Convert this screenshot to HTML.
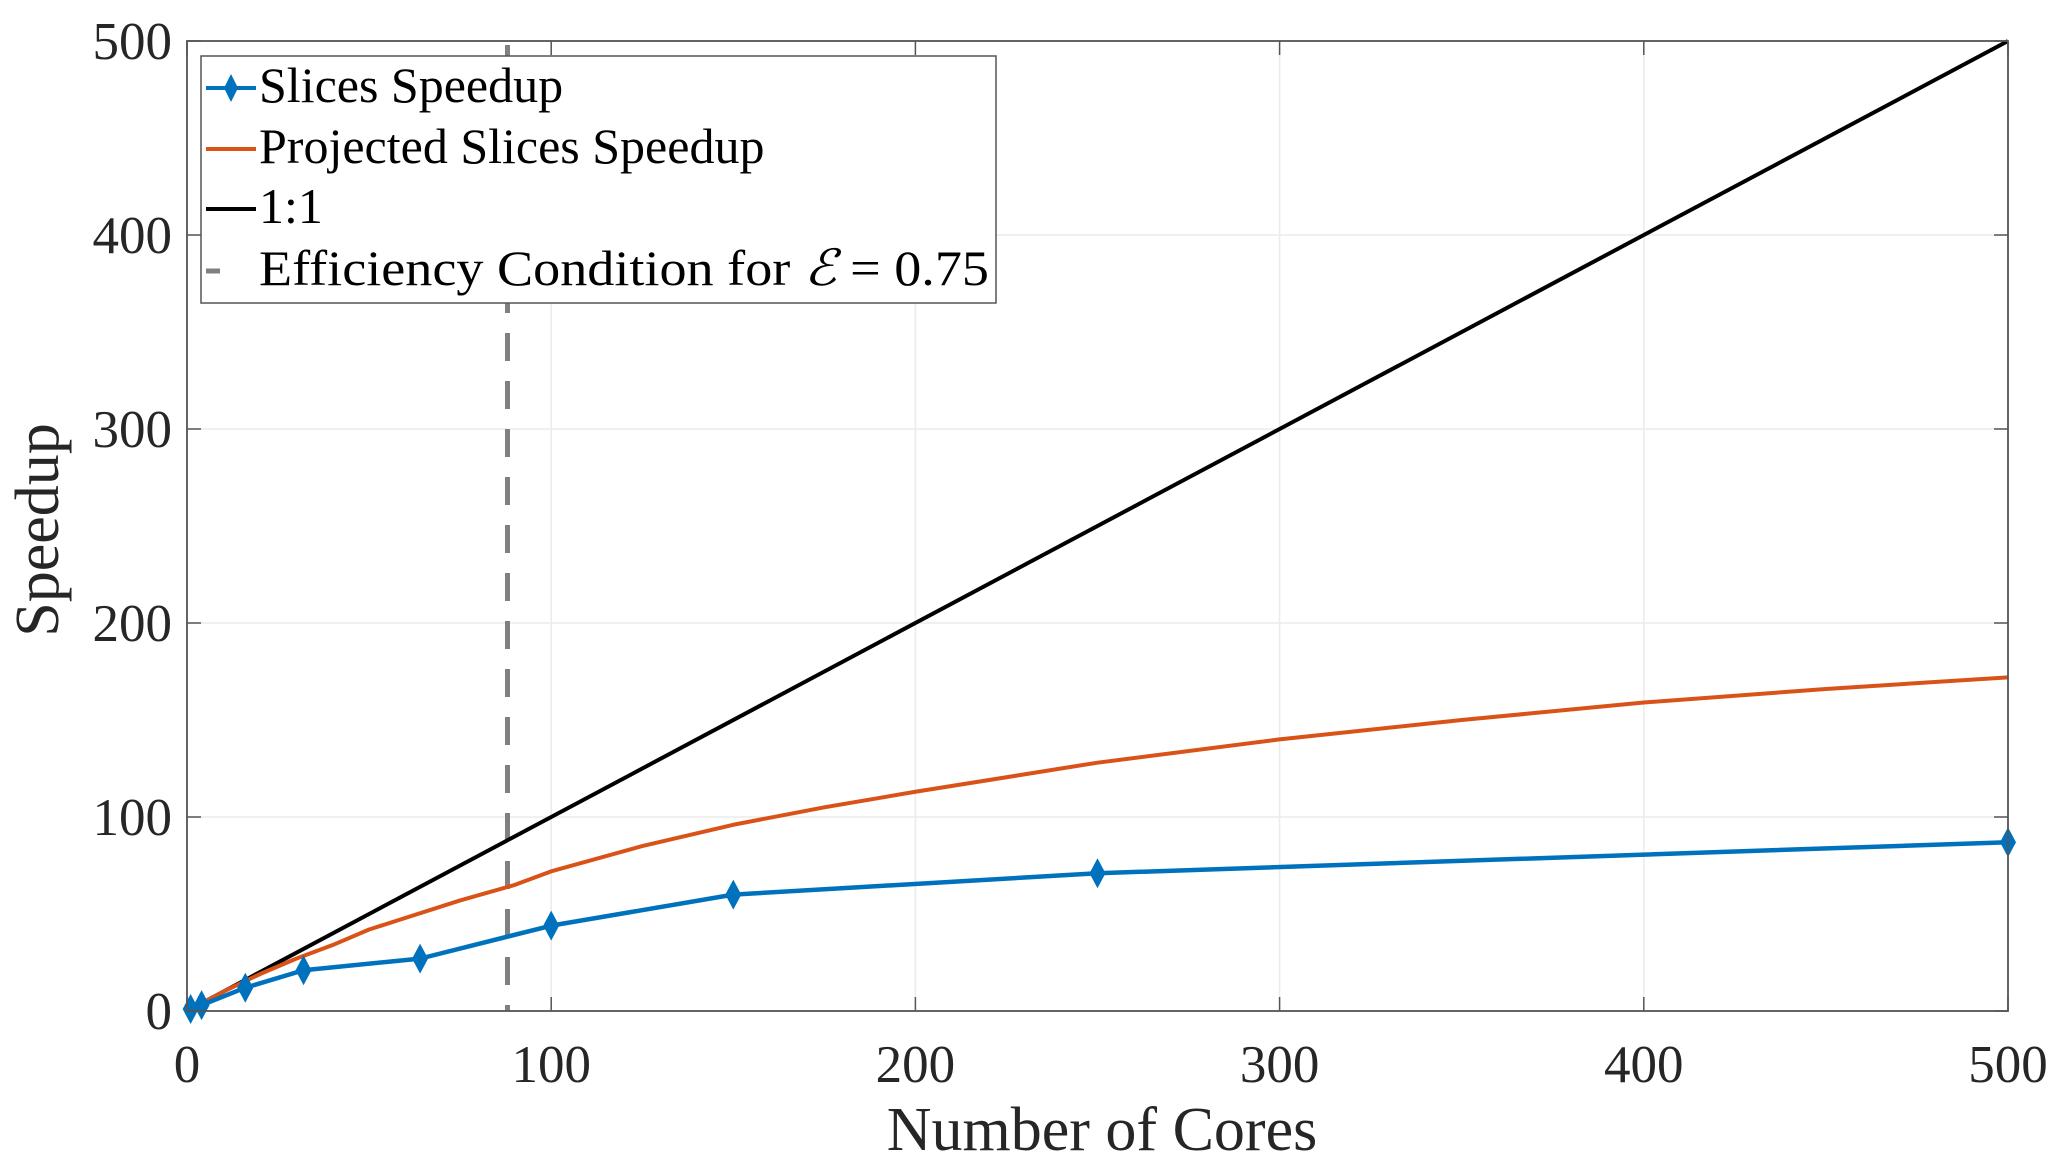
<!DOCTYPE html>
<html><head><meta charset="utf-8"><style>
html,body{margin:0;padding:0;background:#fff;}
svg{display:block;font-family:"Liberation Serif",serif;}
</style></head><body>
<svg id="chart" width="2067" height="1167" viewBox="0 0 2067 1167" xmlns="http://www.w3.org/2000/svg">
<rect width="2067" height="1167" fill="#fff"/>
<g id="grid"></g>
<g id="series"></g>
<g id="axes"></g>
<text x="1102" y="1150" font-size="62" text-anchor="middle" fill="#262626">Number of Cores</text>
<text transform="translate(58,530) rotate(-90)" font-size="62" text-anchor="middle" fill="#262626">Speedup</text>
<g>
<rect x="201" y="56" width="795" height="247" fill="#fff" stroke="#555" stroke-width="1.5"/>
<g>
<line x1="206" y1="88" x2="256" y2="88" stroke="#0072BD" stroke-width="4"/>
<path d="M231,74 L238,88 L231,102 L224,88 Z" fill="#0072BD"/>
<text x="259" y="102" font-size="50" fill="#000">Slices Speedup</text></g>
<g>
<line x1="206" y1="149" x2="256" y2="149" stroke="#D95319" stroke-width="4"/>
<text x="259" y="163" font-size="50" fill="#000">Projected Slices Speedup</text></g>
<g>
<line x1="206" y1="209" x2="256" y2="209" stroke="#000" stroke-width="4"/>
<text x="259" y="223" font-size="50" fill="#000">1:1</text></g>
<g>
<line x1="206" y1="271" x2="220" y2="271" stroke="#808080" stroke-width="5"/>
<text x="259" y="285" font-size="50" fill="#000" textLength="730" lengthAdjust="spacingAndGlyphs">Efficiency Condition for <tspan font-style="italic">ℰ</tspan> = 0.75</text></g>
</g>
</svg>
<script>
const xTicks=[0,100,200,300,400,500];
const yTicks=[0,100,200,300,400,500];
const slicesX=[1,4,16,32,64,100,150,250,500];
const slicesY=[1,3,12,21,27,44,60,71,87];
const projX=[0,5,10,20,30,40,50,60,75,90,100,125,150,175,200,250,300,350,400,450,500];
const projY=[0,5,10,19,27,34,42,48,57,65,72,85,96,105,113,128,140,150,159,166,172];
const oneX=[0,500];
const oneY=[0,500];
const effX=88;

const X0=187,X1=2008,Y0=1011,Y1=41;
const sx=v=>X0+(v-0)/(500)*(X1-X0);
const sy=v=>Y0-(v)/(500)*(Y0-Y1);
const NS="http://www.w3.org/2000/svg";
function mk(tag,parent,attrs){const e=document.createElementNS(NS,tag);for(const k in attrs)e.setAttribute(k,attrs[k]);parent.appendChild(e);return e;}
const grid=document.getElementById('grid'),axes=document.getElementById('axes'),ser=document.getElementById('series');
xTicks.forEach(t=>{
  const gl=mk('line',grid,{x1:sx(t),x2:sx(t),y1:Y1,y2:Y0,stroke:'#ebebeb','stroke-width':1.5});
  
  
  mk('line',axes,{x1:sx(t),x2:sx(t),y1:Y0,y2:Y0-14,stroke:'#555','stroke-width':1.5});
  mk('line',axes,{x1:sx(t),x2:sx(t),y1:Y1,y2:Y1+14,stroke:'#555','stroke-width':1.5});
  const tl=mk('text',axes,{x:sx(t),y:1082,'font-size':53,'text-anchor':'middle',fill:'#262626'});
  tl.textContent=t;
  
  
});
yTicks.forEach(t=>{
  const gl=mk('line',grid,{x1:X0,x2:X1,y1:sy(t),y2:sy(t),stroke:'#ebebeb','stroke-width':1.5});
  
  
  mk('line',axes,{x1:X0,x2:X0+14,y1:sy(t),y2:sy(t),stroke:'#555','stroke-width':1.5});
  mk('line',axes,{x1:X1,x2:X1-14,y1:sy(t),y2:sy(t),stroke:'#555','stroke-width':1.5});
  const tl=mk('text',axes,{x:172,y:sy(t)+18,'font-size':53,'text-anchor':'end',fill:'#262626'});
  tl.textContent=t;
  
  
});
const box=mk('rect',axes,{x:X0,y:Y1,width:X1-X0,height:Y0-Y1,fill:'none',stroke:'#555','stroke-width':1.8});


const eff=mk('line',ser,{x1:sx(effX),x2:sx(effX),y1:Y1+4,y2:Y0,stroke:'#808080','stroke-width':5,'stroke-dasharray':'28,20'});


function pts(xs,ys){return xs.map((x,i)=>sx(x)+','+sy(ys[i])).join(' ');}
const one=mk('polyline',ser,{points:pts(oneX,oneY),fill:'none',stroke:'#000','stroke-width':4});


const pr=mk('polyline',ser,{points:pts(projX,projY),fill:'none',stroke:'#D95319','stroke-width':4,'stroke-linejoin':'round'});


const sl=mk('polyline',ser,{points:pts(slicesX,slicesY),fill:'none',stroke:'#0072BD','stroke-width':4.5,'stroke-linejoin':'round'});


slicesX.forEach((x,i)=>{
  const cx=sx(x),cy=sy(slicesY[i]);
  const m=mk('path',ser,{d:`M${cx},${cy-15} L${cx+8},${cy} L${cx},${cy+15} L${cx-8},${cy} Z`,fill:'#0072BD'});
  
  
});
</script>
</body></html>
